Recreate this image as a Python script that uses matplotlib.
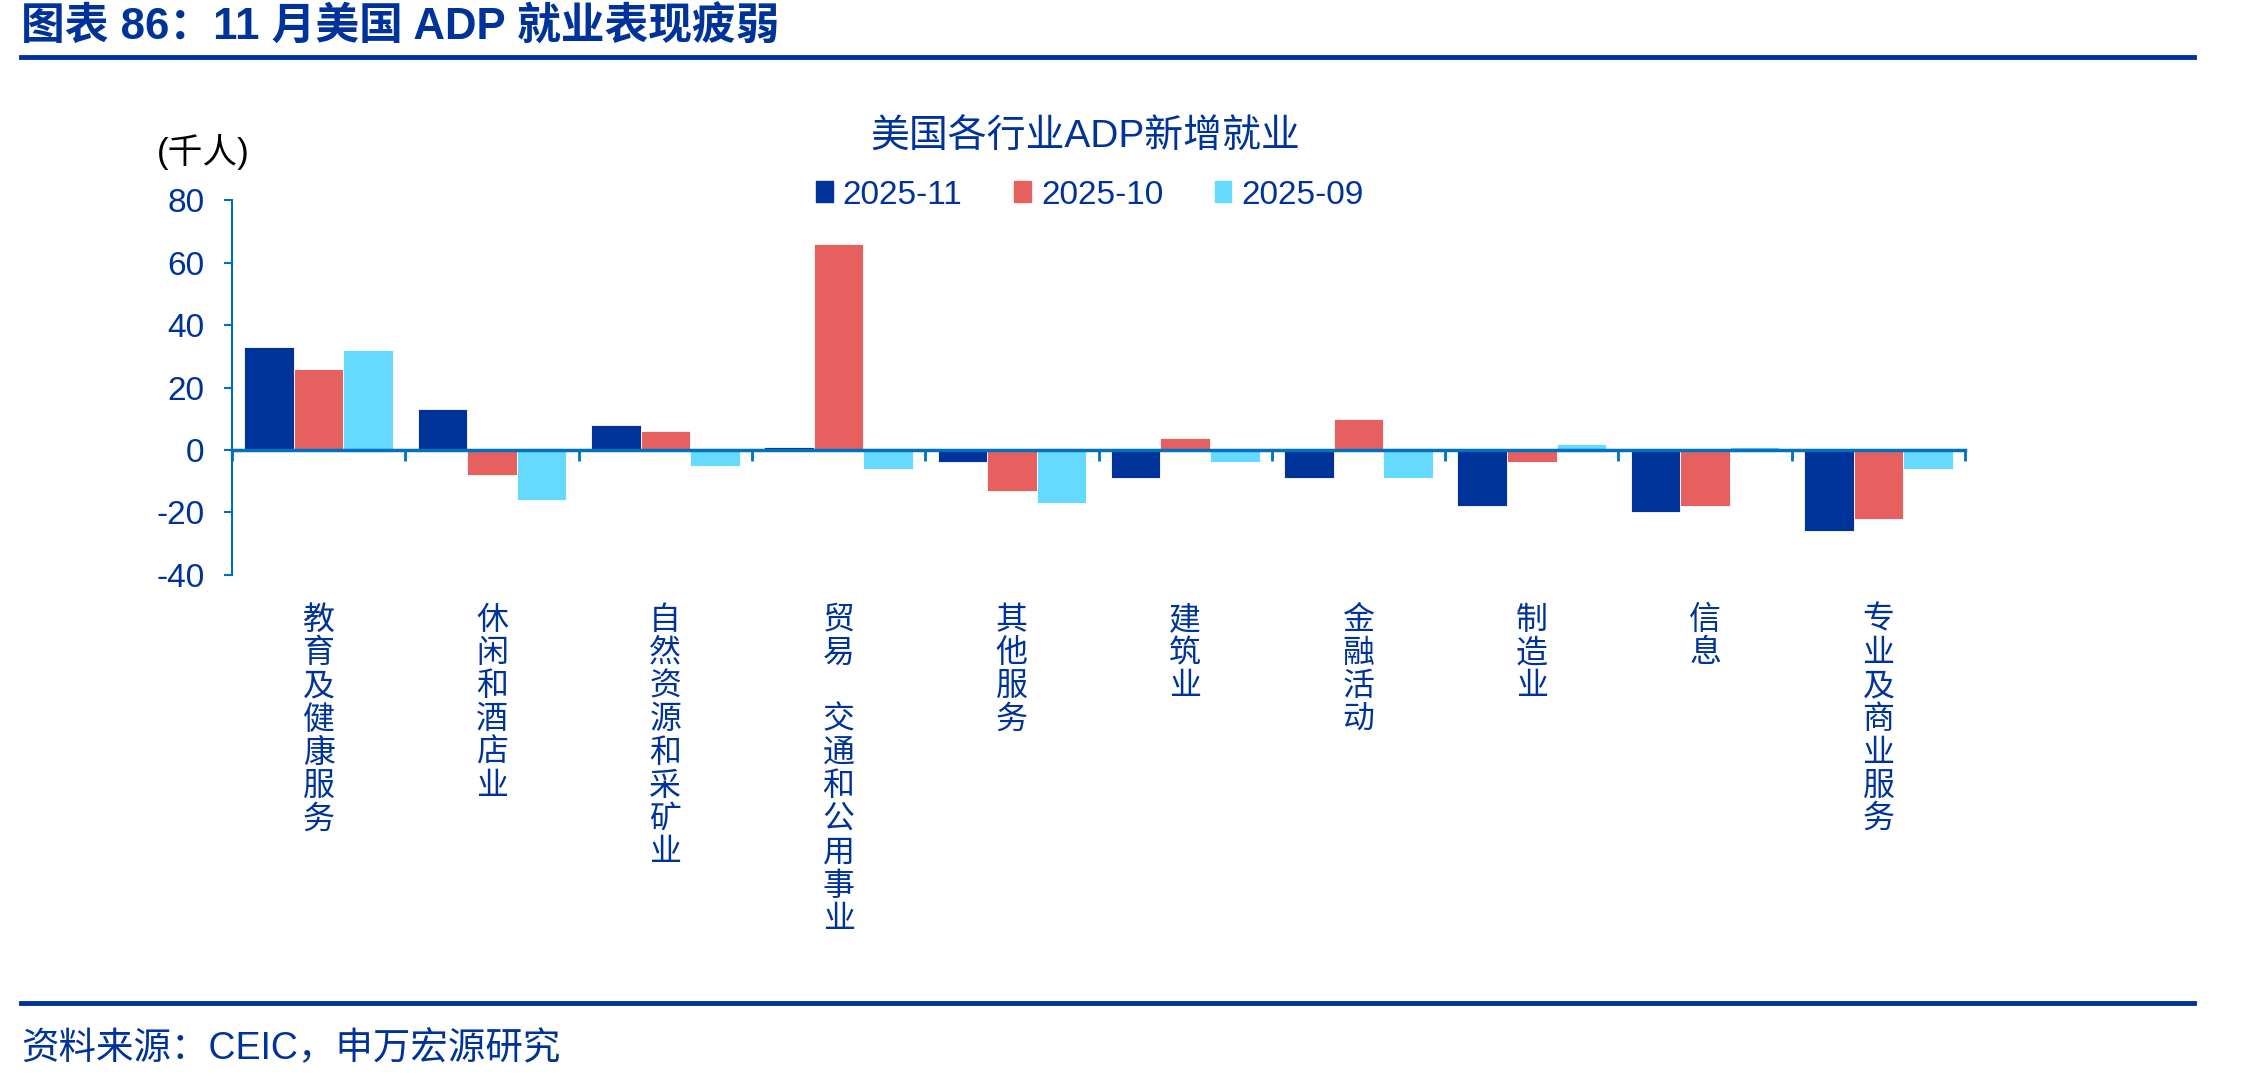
import matplotlib
matplotlib.use("Agg")
import matplotlib.pyplot as plt
import numpy as np
from matplotlib.patches import Rectangle
from matplotlib.lines import Line2D

plt.rcParams['font.family'] = ['Liberation Sans', 'Noto Sans CJK SC', 'DejaVu Sans']
plt.rcParams['axes.unicode_minus'] = False

# data (thousand persons)
categories = ["教育及健康服务", "休闲和酒店业", "自然资源和采矿业", "贸易　交通和公用事业",
              "其他服务", "建筑业", "金融活动", "制造业", "信息", "专业及商业服务"]
series_names = ["2025-11", "2025-10", "2025-09"]
nov = [33, 13, 8, 1, -4, -9, -9, -18, -20, -26]
oct_ = [26, -8, 6, 66, -13, 4, 10, -4, -18, -22]
sep = [32, -16, -5, -6, -17, -4, -9, 2, 1, -6]
yticks = [-40, -20, 0, 20, 40, 60, 80]

navy = "#003399"
red = "#E66060"
cyan = "#66D9FF"
axis_blue = "#0070C0"
text_blue = "#003399"

fig = plt.figure(figsize=(22.44, 10.8), dpi=100)
ax = fig.add_axes([0.1034, 0.4676, 0.7723, 0.3472])

x = np.arange(len(categories))
w = 0.286
for k, (vals, col) in enumerate(zip([nov, oct_, sep], [navy, red, cyan])):
    ax.bar(x + (k - 1) * w, vals, width=w, color=col, edgecolor="white", linewidth=0.6,
           label=series_names[k], zorder=2)

ax.set_xlim(-0.5, len(categories) - 0.5)
ax.set_ylim(-40, 80)
ax.set_yticks(yticks)
ax.tick_params(axis='y', direction='out', length=6, width=1.5, color=axis_blue,
               labelcolor=text_blue, labelsize=24, pad=14)

ax.spines['top'].set_visible(False)
ax.spines['right'].set_visible(False)
ax.spines['left'].set_color(axis_blue)
ax.spines['left'].set_linewidth(1.5)
ax.spines['bottom'].set_position(('data', 0))
ax.spines['bottom'].set_color(axis_blue)
ax.spines['bottom'].set_linewidth(2.5)
ax.spines['bottom'].set_zorder(3)
ax.set_xticks(np.arange(-0.5, len(categories), 1.0))
ax.set_xticklabels([])
ax.tick_params(axis='x', direction='out', length=8, width=2, color=axis_blue)

# vertical category labels
for i, name in enumerate(categories):
    ax.text(i, -0.082, "\n".join(name), transform=ax.get_xaxis_transform(),
            ha='center', va='top', fontsize=23, color=text_blue, linespacing=1.14)

# unit
fig.text(157 / 2244, 1 - 152 / 1080, "(千人)", fontsize=25, color="black", va='center')

# chart title
fig.text(1085 / 2244, 1 - 138 / 1080, "美国各行业ADP新增就业", fontsize=28,
         color=text_blue, ha='center', va='center')

# legend
handles = [Rectangle((0, 0), 1, 1, color=c) for c in [navy, red, cyan]]
leg = fig.legend(handles, series_names, loc='center', bbox_to_anchor=(1090 / 2244, 1 - 195 / 1080),
                 ncol=3, frameon=False, fontsize=24, handlelength=0.5, handleheight=0.6,
                 handletextpad=0.3, columnspacing=1.55)
for t in leg.get_texts():
    t.set_color(text_blue)

# header and footer
fig.text(21 / 2244, 1 - 27 / 1080, "图表 86：11 月美国 ADP 就业表现疲弱", fontsize=31.5,
         fontweight='bold', color=text_blue, va='center', ha='left')
fig.add_artist(Line2D([21 / 2244, 2194 / 2244], [1 - 57 / 1080] * 2, color=text_blue, linewidth=3.5))
fig.add_artist(Line2D([21 / 2244, 2194 / 2244], [1 - 1003 / 1080] * 2, color=text_blue, linewidth=3.5))
fig.text(21 / 2244, 1 - 1049 / 1080, "资料来源：CEIC，申万宏源研究", fontsize=27,
         color=text_blue, va='center', ha='left')

fig.savefig("out.png", dpi=100)
